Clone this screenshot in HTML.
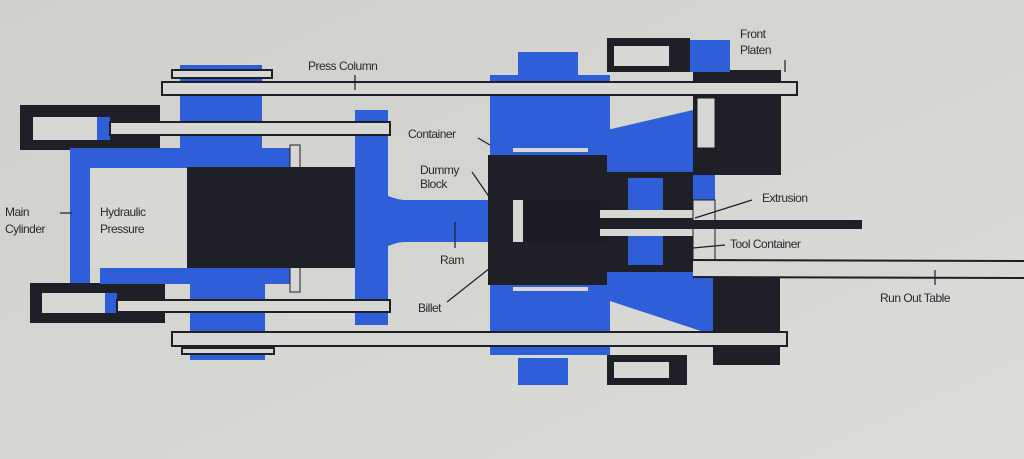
<!DOCTYPE html>
<html><head><meta charset="utf-8"><style>
html,body{margin:0;padding:0;width:1024px;height:459px;overflow:hidden;background:#d7d7d3}
svg{display:block}
text{font-family:"Liberation Sans",sans-serif;font-size:12px;fill:#2a2a30;letter-spacing:-0.5px}
</style></head><body>
<svg width="1024" height="459" viewBox="0 0 1024 459" xmlns="http://www.w3.org/2000/svg">
<defs><linearGradient id="bg" x1="0" y1="0" x2="1" y2="1"><stop offset="0" stop-color="#cfcfcb"/><stop offset="1" stop-color="#dcdcd8"/></linearGradient></defs>
<rect width="1024" height="459" fill="url(#bg)"/>
<g stroke="none">
<!-- left cylinders -->
<rect x="20" y="105" width="140" height="45" fill="#1f1f27"/>
<rect x="33" y="117" width="64" height="23" fill="#d7d7d3"/>
<rect x="97" y="117" width="13" height="23" fill="#2f5fd8"/>
<rect x="30" y="283" width="135" height="40" fill="#1f1f27"/>
<rect x="42" y="293" width="63" height="20" fill="#d7d7d3"/>
<rect x="105" y="293" width="12" height="20" fill="#2f5fd8"/>
<!-- main cylinder -->
<rect x="70" y="148" width="220" height="20" fill="#2f5fd8"/>
<rect x="70" y="148" width="20" height="135" fill="#2f5fd8"/>
<rect x="100" y="268" width="190" height="16" fill="#2f5fd8"/>
<rect x="90" y="168" width="97" height="100" fill="#d7d7d3"/>
<!-- platens -->
<rect x="180" y="65" width="82" height="85" fill="#2f5fd8"/>
<rect x="190" y="283" width="75" height="77" fill="#2f5fd8"/>
<rect x="172" y="70" width="100" height="8" fill="#d7d7d3" stroke="#1f1f27" stroke-width="2"/>
<rect x="182" y="348" width="92" height="6" fill="#d7d7d3" stroke="#1f1f27" stroke-width="2"/>
<rect x="290" y="145" width="10" height="25" fill="#d7d7d3" stroke="#1f1f27"/>
<rect x="290" y="267" width="10" height="25" fill="#d7d7d3" stroke="#1f1f27"/>
<!-- piston -->
<rect x="187" y="167" width="168" height="101" fill="#1f1f27"/>
<!-- crosshead -->
<rect x="355" y="110" width="33" height="215" fill="#2f5fd8"/>
<path d="M380 192 Q395 200 405 200 L515 200 L515 242 L405 242 Q395 242 380 250 Z" fill="#2f5fd8"/>
<!-- rods -->
<rect x="110" y="122" width="280" height="13" fill="#d7d7d3" stroke="#1f1f27" stroke-width="2"/>
<rect x="117" y="300" width="273" height="12" fill="#d7d7d3" stroke="#1f1f27" stroke-width="2"/>
<!-- container -->
<rect x="518" y="52" width="60" height="30" fill="#2f5fd8"/>
<rect x="518" y="358" width="50" height="27" fill="#2f5fd8"/>
<rect x="490" y="75" width="120" height="280" fill="#2f5fd8"/>
<rect x="488" y="155" width="124" height="130" fill="#1f1f27"/>
<rect x="518" y="200" width="95" height="42" fill="#1c1c24"/>
<rect x="513" y="200" width="10" height="42" fill="#d7d7d3"/>
<rect x="513" y="148" width="75" height="4" fill="#d7d7d3"/>
<rect x="513" y="287" width="75" height="4" fill="#d7d7d3"/>
<!-- die / tools -->
<path d="M607 130 L693 110 L693 175 L607 175 Z" fill="#2f5fd8"/>
<path d="M607 270 L713 270 L713 335 L607 300 Z" fill="#2f5fd8"/>
<rect x="607" y="172" width="86" height="100" fill="#1f1f27"/>
<rect x="628" y="178" width="35" height="35" fill="#2f5fd8"/>
<rect x="628" y="235" width="35" height="30" fill="#2f5fd8"/>
<rect x="600" y="210" width="95" height="8" fill="#d7d7d3"/>
<rect x="600" y="228" width="95" height="8" fill="#d7d7d3"/>
<rect x="693" y="150" width="22" height="50" fill="#2f5fd8"/>
<rect x="693" y="200" width="22" height="60" fill="#d7d7d3" stroke="#1f1f27"/>
<rect x="693" y="70" width="88" height="105" fill="#1f1f27"/>
<rect x="713" y="275" width="67" height="90" fill="#1f1f27"/>
<rect x="697" y="98" width="18" height="50" fill="#d7d7d3" stroke="#1f1f27"/>
<!-- top/bottom small structures -->
<rect x="607" y="38" width="83" height="34" fill="#1f1f27"/>
<rect x="614" y="46" width="55" height="20" fill="#d7d7d3"/>
<rect x="690" y="40" width="40" height="32" fill="#2f5fd8"/>
<rect x="607" y="355" width="80" height="30" fill="#1f1f27"/>
<rect x="614" y="362" width="55" height="16" fill="#d7d7d3"/>
<!-- columns -->
<rect x="162" y="82" width="635" height="13" fill="#d7d7d3" stroke="#1f1f27" stroke-width="2"/>
<rect x="172" y="332" width="615" height="14" fill="#d7d7d3" stroke="#1f1f27" stroke-width="2"/>
<!-- extrusion -->
<rect x="600" y="220" width="262" height="9" fill="#1f1f27"/>
<rect x="693" y="260" width="331" height="17" fill="#d7d7d3"/>
<line x1="693" y1="260" x2="1024" y2="261" stroke="#1f1f27" stroke-width="2"/>
<line x1="693" y1="277" x2="1024" y2="278" stroke="#1f1f27" stroke-width="2"/>
</g>
<!-- leaders -->
<g stroke="#1f1f27" stroke-width="1.2" fill="none">
<line x1="355" y1="75" x2="355" y2="90"/>
<line x1="935" y1="270" x2="935" y2="285"/>
<line x1="60" y1="213" x2="72" y2="213"/>
<line x1="478" y1="138" x2="490" y2="145"/>
<line x1="472" y1="172" x2="490" y2="198"/>
<line x1="455" y1="222" x2="455" y2="248"/>
<line x1="447" y1="302" x2="490" y2="268"/>
<line x1="752" y1="200" x2="695" y2="218"/>
<line x1="725" y1="245" x2="693" y2="248"/>
<line x1="785" y1="60" x2="785" y2="72"/>
</g>
<text x="308" y="70">Press Column</text>
<text x="740" y="38">Front</text>
<text x="740" y="54">Platen</text>
<text x="408" y="138">Container</text>
<text x="420" y="174">Dummy</text>
<text x="420" y="188">Block</text>
<text x="5" y="216">Main</text>
<text x="5" y="233">Cylinder</text>
<text x="100" y="216">Hydraulic</text>
<text x="100" y="233">Pressure</text>
<text x="762" y="202">Extrusion</text>
<text x="730" y="248">Tool Container</text>
<text x="440" y="264">Ram</text>
<text x="418" y="312">Billet</text>
<text x="880" y="302">Run Out Table</text>
</svg>
</body></html>
